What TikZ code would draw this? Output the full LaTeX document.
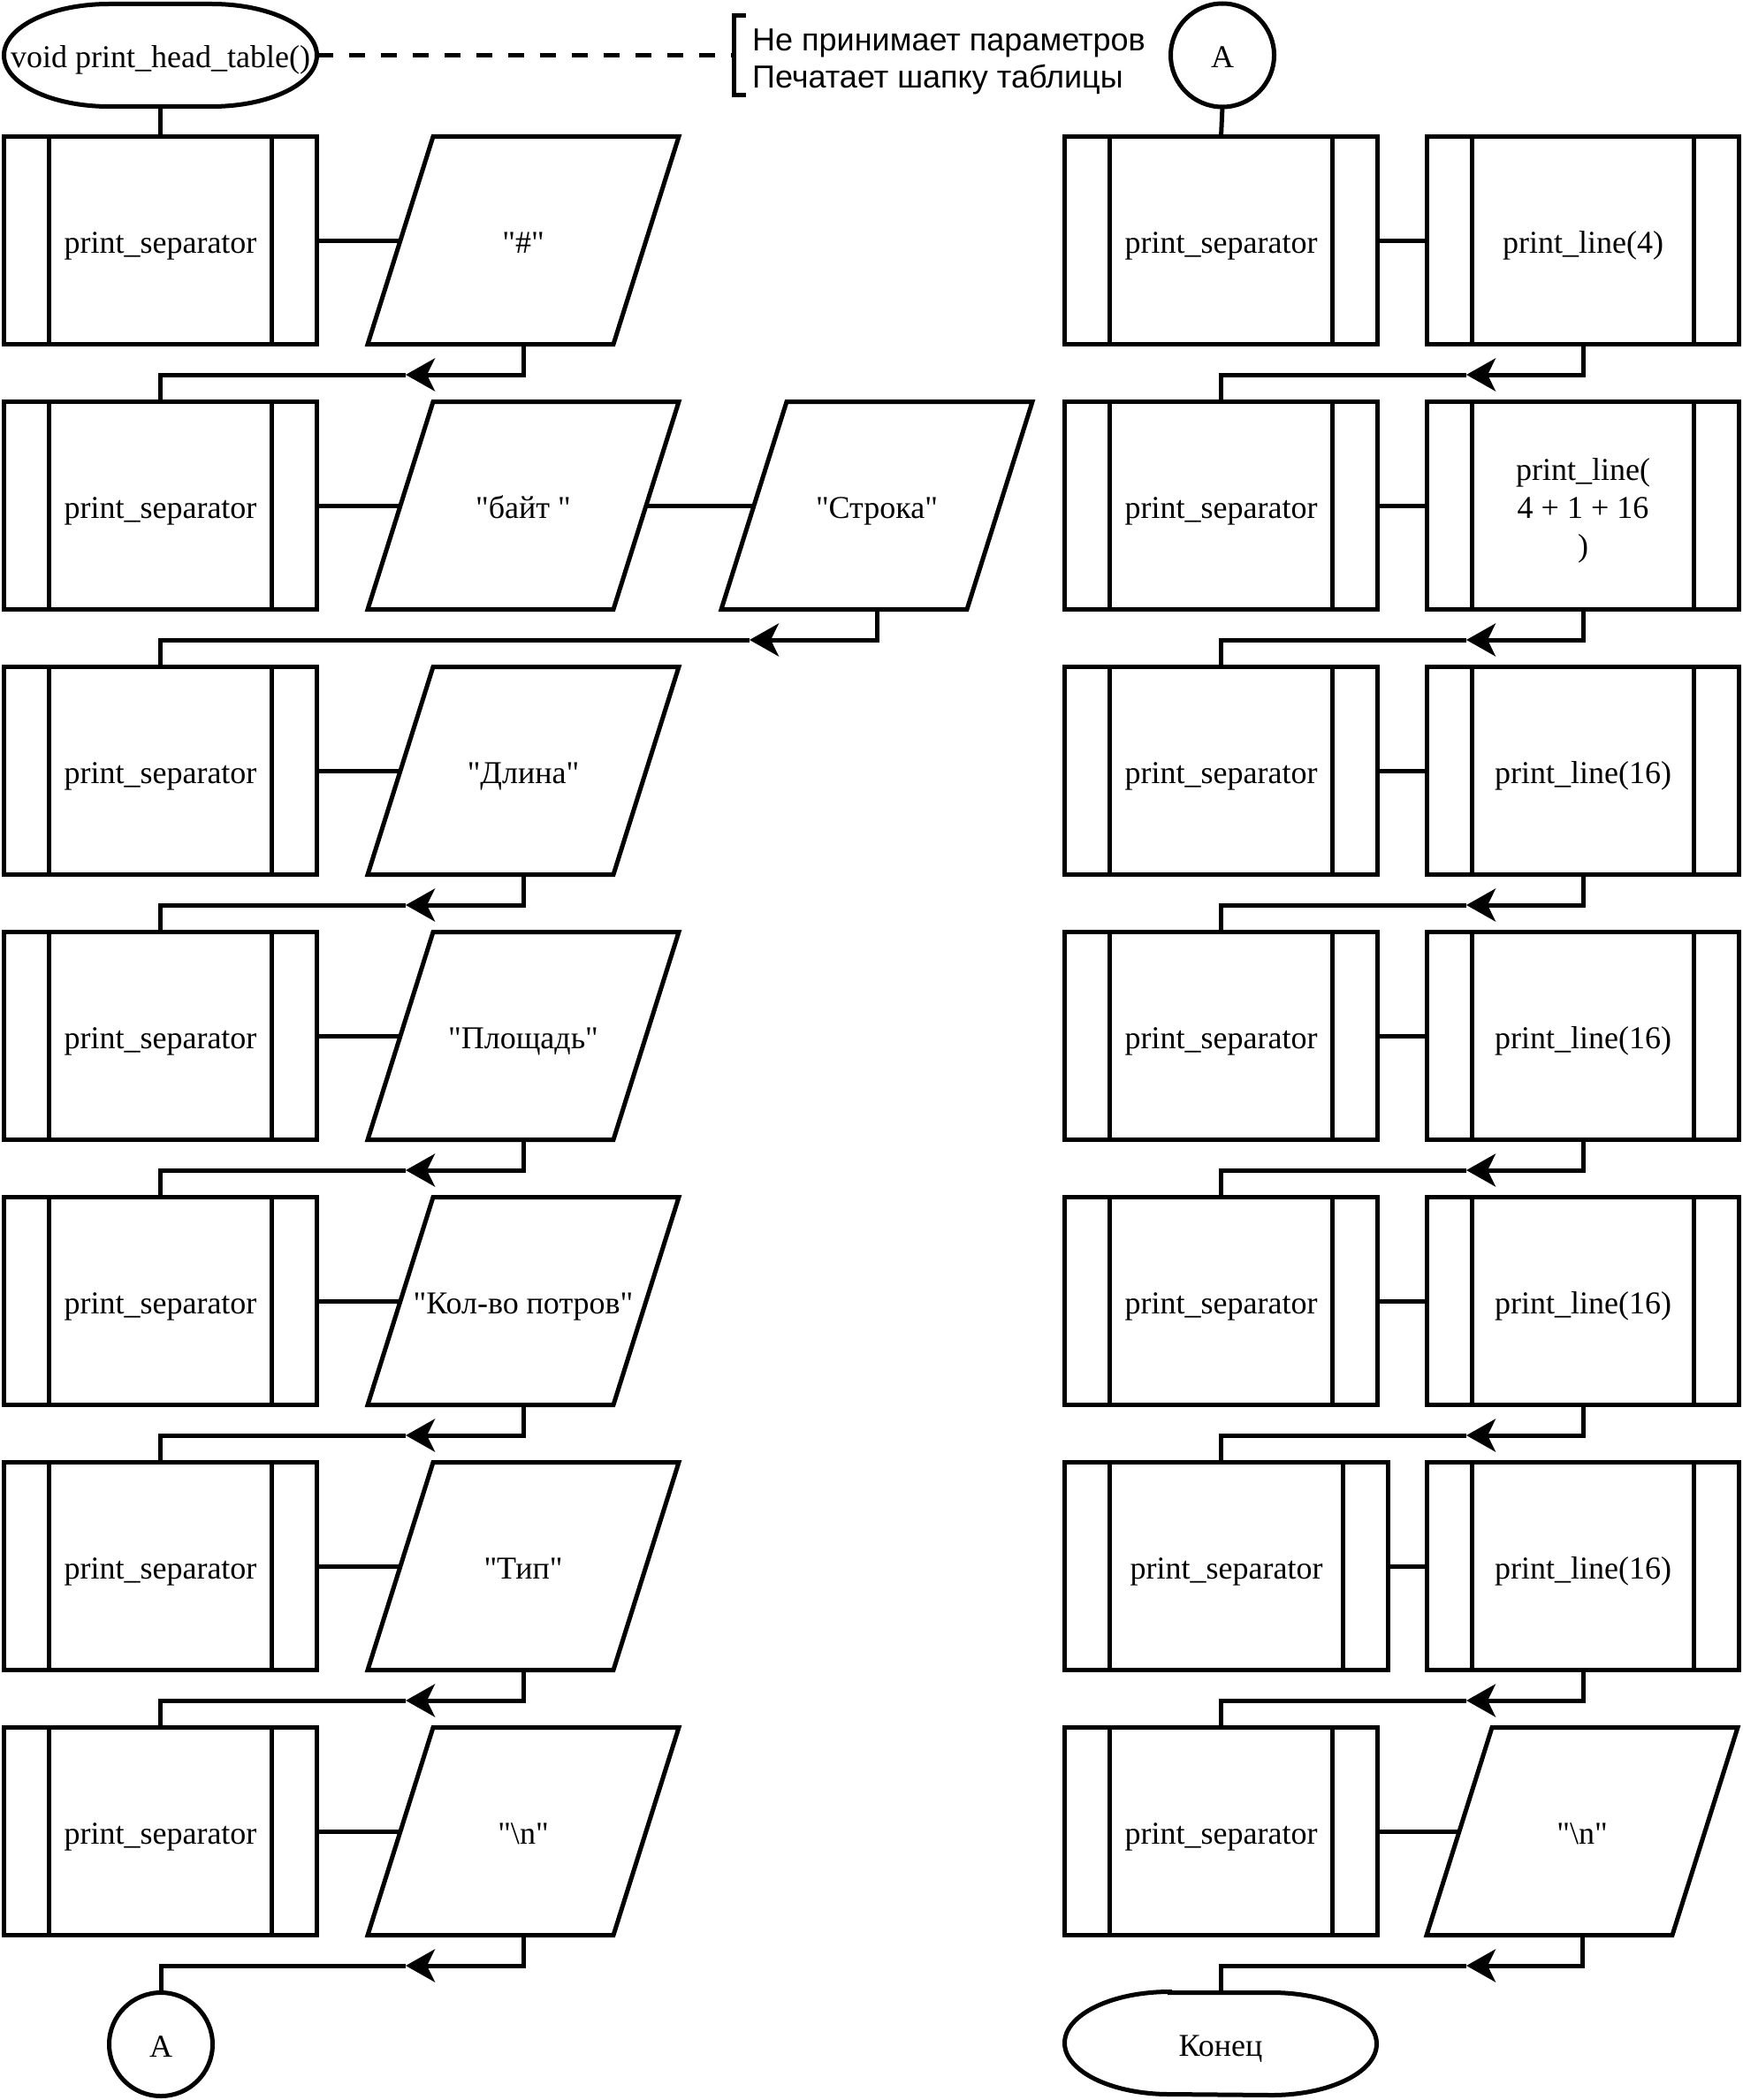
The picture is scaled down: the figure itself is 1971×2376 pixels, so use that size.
\documentclass[tikz,border=0pt]{standalone}
\usepackage{fontspec}
\setmainfont{Liberation Serif}[Ligatures=TeXOff]
\newfontfamily\annfont{Liberation Sans}
\usetikzlibrary{arrows.meta}
\tikzset{
  base/.style={inner sep=0pt, outer sep=0pt, font=\fontsize{36pt}{43pt}\selectfont, text height=28pt, text depth=0pt},
  lw/.style={line width=5pt, line join=miter},
  subbox/.style={base, draw, lw, rectangle, minimum width=354pt, minimum height=235pt,
    path picture={\draw[lw] ([xshift=51pt]path picture bounding box.north west) -- ([xshift=51pt]path picture bounding box.south west)
      ([xshift=-51pt]path picture bounding box.north east) -- ([xshift=-51pt]path picture bounding box.south east);}},
  iobox/.style={base, rectangle, minimum width=352pt, minimum height=235pt},
  termbox/.style={base, rectangle, minimum width=354pt, minimum height=116pt},
  circ/.style={base, draw, lw, circle, minimum size=117pt},
  conn/.style={lw},
  arr/.style={lw, -{Stealth[length=33pt, width=37pt, inset=9pt]}},
  note/.style={lw, dash pattern=on 18pt off 18pt},
}
\newcommand{\drawpar}[1]{\draw[lw] ([xshift=74pt]#1.north west) -- (#1.north east) -- ([xshift=-74pt]#1.south east) -- (#1.south west) -- cycle;}
\newcommand{\drawterm}[1]{\draw[lw] ([xshift=119pt]#1.north west) -- ([xshift=-119pt]#1.north east) arc[start angle=90, end angle=-90, x radius=119pt, y radius=58pt] -- ([xshift=119pt]#1.south west) arc[start angle=270, end angle=90, x radius=119pt, y radius=58pt] -- cycle;}
\begin{document}
\begin{tikzpicture}[x=1pt, y=-1pt]
\useasboundingbox (0,0) rectangle (1971,2376);
% ---------- left column ----------
\node[termbox] (start) at (181.5,62.5) {void print\_head\_table()};
\drawterm{start}
\node[subbox] (b1) at (181.5,272) {print\_separator};
\node[subbox] (b2) at (181.5,572) {print\_separator};
\node[subbox] (b3) at (181.5,872) {print\_separator};
\node[subbox] (b4) at (181.5,1172) {print\_separator};
\node[subbox] (b5) at (181.5,1472) {print\_separator};
\node[subbox] (b6) at (181.5,1772) {print\_separator};
\node[subbox] (b7) at (181.5,2072) {print\_separator};
\node[iobox] (p1) at (592,272) {"\#"};
\node[iobox] (p2) at (592,572) {"байт\ "};
\node[iobox] (p3) at (592,872) {"Длина"};
\node[iobox] (p4) at (592,1172) {"Площадь"};
\node[iobox] (p5) at (592,1472) {"Кол-во потров"};
\node[iobox] (p6) at (592,1772) {"Тип"};
\node[iobox] (p7) at (592,2072) {"\textbackslash n"};
\node[iobox] (s) at (992,572) {"Строка"};
\foreach \n in {p1,p2,p3,p4,p5,p6,p7,s} {\drawpar{\n}}
\node[circ] (aleft) at (182,2313) {A};
% annotation
\coordinate (brk) at (830,62.5);
\draw[note] (start.east) -- (brk);
\draw[lw] (844,17.5) -- (830,17.5) -- (830,107.5) -- (844,107.5);
\node[anchor=west, inner sep=0pt, align=left, font=\annfont\fontsize{36pt}{42pt}\selectfont] (ann) at (851,70) {Не принимает параметров\\Печатает шапку таблицы};
% left connectors
\draw[conn] (start.south) -- (b1.north);
\foreach \k in {1,...,7} {\draw[conn] (b\k.east) -- ([xshift=37pt]p\k.west);}
\draw[conn] ([xshift=-37pt]p2.east) -- ([xshift=37pt]s.west);
\coordinate (t1) at (459,424);
\coordinate (t2) at (848,724);
\coordinate (t3) at (459,1024);
\coordinate (t4) at (459,1324);
\coordinate (t5) at (459,1624);
\coordinate (t6) at (459,1924);
\coordinate (t7) at (459,2224);
\draw[arr] (p1.south) |- (t1); \draw[conn] (t1) -| (b2.north);
\draw[arr] (s.south) |- (t2); \draw[conn] (t2) -| (b3.north);
\draw[arr] (p3.south) |- (t3); \draw[conn] (t3) -| (b4.north);
\draw[arr] (p4.south) |- (t4); \draw[conn] (t4) -| (b5.north);
\draw[arr] (p5.south) |- (t5); \draw[conn] (t5) -| (b6.north);
\draw[arr] (p6.south) |- (t6); \draw[conn] (t6) -| (b7.north);
\draw[arr] (p7.south) |- (t7); \draw[conn] (t7) -| (aleft.north);
% ---------- right column ----------
\node[circ] (atop) at (1383,62.5) {A};
\node[subbox] (rs1) at (1381.5,272) {print\_separator};
\node[subbox] (rs2) at (1381.5,572) {print\_separator};
\node[subbox] (rs3) at (1381.5,872) {print\_separator};
\node[subbox] (rs4) at (1381.5,1172) {print\_separator};
\node[subbox] (rs5) at (1381.5,1472) {print\_separator};
\node[subbox, minimum width=366pt] (rs6) at (1387.5,1772) {print\_separator};
\node[subbox] (rs7) at (1381.5,2072) {print\_separator};
\node[subbox, minimum width=353pt] (rl1) at (1791,272) {print\_line(4)};
\node[subbox, minimum width=353pt, align=center, text height=114pt, text depth=0pt] (rl2) at (1791,572) {print\_line(\\4 + 1 + 16\\)};
\node[subbox, minimum width=353pt] (rl3) at (1791,872) {print\_line(16)};
\node[subbox, minimum width=353pt] (rl4) at (1791,1172) {print\_line(16)};
\node[subbox, minimum width=353pt] (rl5) at (1791,1472) {print\_line(16)};
\node[subbox, minimum width=353pt] (rl6) at (1791,1772) {print\_line(16)};
\node[iobox] (rn) at (1790,2072) {"\textbackslash n"};
\drawpar{rn}
\node[termbox, minimum width=353pt, minimum height=115pt] (fin) at (1381,2312) {Конец};
\drawterm{fin}
% right connectors
\draw[conn] (atop.south) -- (rs1.north);
\foreach \k in {1,...,6} {\draw[conn] (rs\k.east) -- (rl\k.west);}
\draw[conn] (rs7.east) -- ([xshift=37pt]rn.west);
\coordinate (u1) at (1659,424);
\coordinate (u2) at (1659,724);
\coordinate (u3) at (1659,1024);
\coordinate (u4) at (1659,1324);
\coordinate (u5) at (1659,1624);
\coordinate (u6) at (1659,1924);
\coordinate (u7) at (1659,2224);
\draw[arr] (rl1.south) |- (u1); \draw[conn] (u1) -| (rs2.north);
\draw[arr] (rl2.south) |- (u2); \draw[conn] (u2) -| (rs3.north);
\draw[arr] (rl3.south) |- (u3); \draw[conn] (u3) -| (rs4.north);
\draw[arr] (rl4.south) |- (u4); \draw[conn] (u4) -| (rs5.north);
\draw[arr] (rl5.south) |- (u5); \draw[conn] (u5) -| (rs5.south |- rs6.north);
\draw[arr] (rl6.south) |- (u6); \draw[conn] (u6) -| (rs7.north);
\draw[arr] (rn.south) |- (u7); \draw[conn] (u7) -| (fin.north);
\end{tikzpicture}
\end{document}
